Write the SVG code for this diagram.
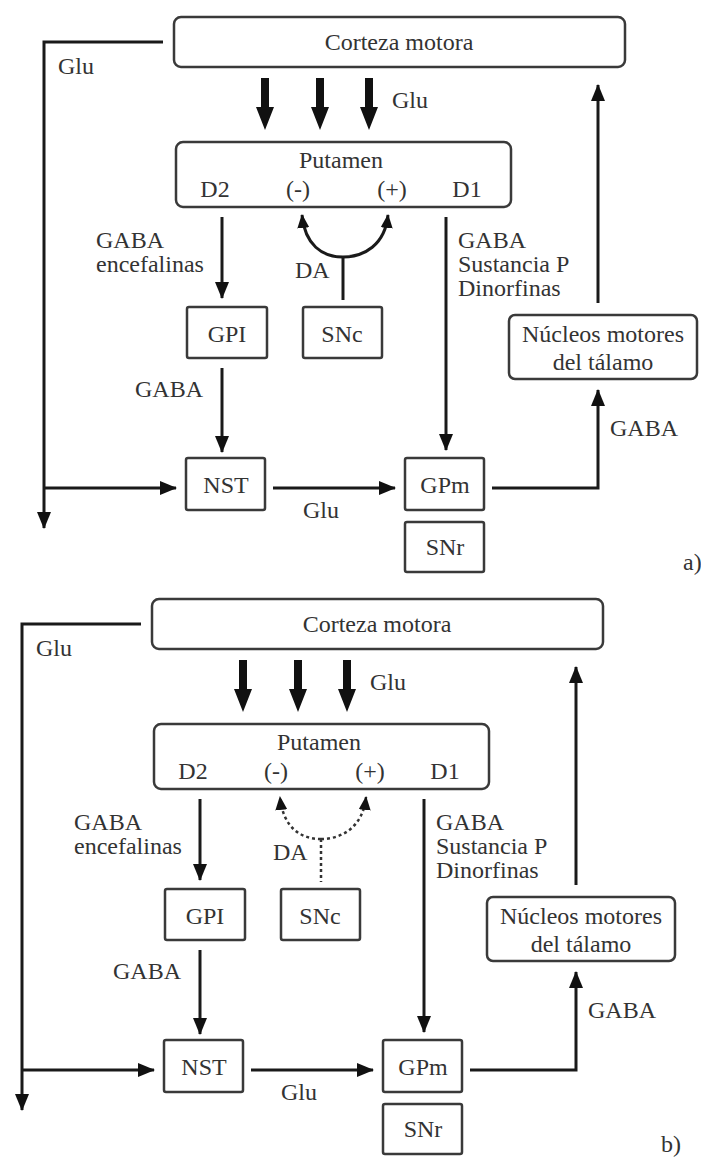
<svg xmlns="http://www.w3.org/2000/svg" width="701" height="1158" viewBox="0 0 701 1158">
<style>
text{font-family:'Liberation Serif','Times New Roman',serif;font-size:24px;fill:#333}
.c{text-anchor:middle}
.box{fill:#fff;stroke:#3a3a3a;stroke-width:2.5}
.ln{fill:none;stroke:#1a1a1a;stroke-width:3}
.dot{fill:none;stroke:#333;stroke-width:2.5;stroke-dasharray:3 3}
.thick{fill:#111}
</style>
<defs>
<marker id="ah" markerUnits="userSpaceOnUse" markerWidth="17" markerHeight="14" viewBox="0 0 17 14" refX="16" refY="7" orient="auto">
<path d="M0,0 L17,7 L0,14 Z" fill="#111"/>
</marker>
<marker id="ahs" markerUnits="userSpaceOnUse" markerWidth="14" markerHeight="12" viewBox="0 0 14 12" refX="13" refY="6" orient="auto">
<path d="M0,0 L14,6 L0,12 Z" fill="#111"/>
</marker>
</defs>

<g id="panel-a">
<g id="a-corteza"><rect class="box" x="174" y="17" width="451" height="50" rx="7"/><text class="c" x="399" y="50">Corteza motora</text></g>
<g id="a-putamen"><rect class="box" x="176" y="142" width="335" height="65" rx="7"/>
<text class="c" x="341" y="168">Putamen</text>
<text class="c" x="215" y="197">D2</text>
<text class="c" x="298" y="197">(-)</text>
<text class="c" x="392" y="197">(+)</text>
<text class="c" x="467" y="197">D1</text></g>
<g id="a-gpi"><rect class="box" x="187" y="307" width="80" height="51" rx="2"/><text class="c" x="227" y="342">GPI</text></g>
<g id="a-snc"><rect class="box" x="303" y="307" width="79" height="51" rx="2"/><text class="c" x="342" y="342">SNc</text></g>
<g id="a-nucleos"><rect class="box" x="509" y="315" width="188" height="64" rx="6"/><text class="c" x="603" y="342">Núcleos motores</text><text class="c" x="603" y="370">del tálamo</text></g>
<g id="a-nst"><rect class="box" x="186" y="458" width="79" height="52" rx="2"/><text class="c" x="226" y="493">NST</text></g>
<g id="a-gpm"><rect class="box" x="405" y="458" width="79" height="52" rx="2"/><text class="c" x="445" y="493">GPm</text></g>
<g id="a-snr"><rect class="box" x="405" y="522" width="79" height="50" rx="2"/><text class="c" x="445" y="555">SNr</text></g>
<g id="a-connectors">
<path class="ln" d="M163,42 H44 V528" marker-end="url(#ah)"/>
<path class="ln" d="M44,488 H176" marker-end="url(#ah)"/>
<path class="thick" d="M261,78 H269 V107 H274 L265,130 L256,107 H261 Z"/>
<path class="thick" d="M316,78 H324 V107 H329 L320,130 L311,107 H316 Z"/>
<path class="thick" d="M365,78 H373 V107 H378 L369,130 L360,107 H365 Z"/>
<path class="ln" d="M222,217 V298" marker-end="url(#ah)"/>
<path class="ln" d="M343,257 C322,257 305,245 302,215" marker-end="url(#ahs)"/>
<path class="ln" d="M343,257 C364,257 385,245 388,215" marker-end="url(#ahs)"/>
<path class="ln" d="M343,257 V300"/>
<path class="ln" d="M446,217 V450" marker-end="url(#ah)"/>
<path class="ln" d="M598,303 V85" marker-end="url(#ah)"/>
<path class="ln" d="M222,368 V452" marker-end="url(#ah)"/>
<path class="ln" d="M273,488 H395" marker-end="url(#ah)"/>
<path class="ln" d="M492,488 H598 V390" marker-end="url(#ah)"/>
</g>
<g id="a-labels">
<text x="58" y="74">Glu</text>
<text x="392" y="108">Glu</text>
<text x="96" y="248">GABA</text>
<text x="96" y="272">encefalinas</text>
<text x="295" y="278">DA</text>
<text x="458" y="248">GABA</text>
<text x="458" y="272">Sustancia P</text>
<text x="458" y="296">Dinorfinas</text>
<text x="135" y="397">GABA</text>
<text x="303" y="518">Glu</text>
<text x="610" y="436">GABA</text>
<text x="683" y="570">a)</text>
</g>
</g>

<g id="panel-b" transform="translate(-22,582)">
<g id="b-corteza"><rect class="box" x="174" y="17" width="451" height="50" rx="7"/><text class="c" x="399" y="50">Corteza motora</text></g>
<g id="b-putamen"><rect class="box" x="176" y="142" width="335" height="65" rx="7"/>
<text class="c" x="341" y="168">Putamen</text>
<text class="c" x="215" y="197">D2</text>
<text class="c" x="298" y="197">(-)</text>
<text class="c" x="392" y="197">(+)</text>
<text class="c" x="467" y="197">D1</text></g>
<g id="b-gpi"><rect class="box" x="187" y="307" width="80" height="51" rx="2"/><text class="c" x="227" y="342">GPI</text></g>
<g id="b-snc"><rect class="box" x="303" y="307" width="79" height="51" rx="2"/><text class="c" x="342" y="342">SNc</text></g>
<g id="b-nucleos"><rect class="box" x="509" y="315" width="188" height="64" rx="6"/><text class="c" x="603" y="342">Núcleos motores</text><text class="c" x="603" y="370">del tálamo</text></g>
<g id="b-nst"><rect class="box" x="186" y="458" width="79" height="52" rx="2"/><text class="c" x="226" y="493">NST</text></g>
<g id="b-gpm"><rect class="box" x="405" y="458" width="79" height="52" rx="2"/><text class="c" x="445" y="493">GPm</text></g>
<g id="b-snr"><rect class="box" x="405" y="522" width="79" height="50" rx="2"/><text class="c" x="445" y="555">SNr</text></g>
<g id="b-connectors">
<path class="ln" d="M163,42 H44 V528" marker-end="url(#ah)"/>
<path class="ln" d="M44,488 H176" marker-end="url(#ah)"/>
<path class="thick" d="M261,78 H269 V107 H274 L265,130 L256,107 H261 Z"/>
<path class="thick" d="M316,78 H324 V107 H329 L320,130 L311,107 H316 Z"/>
<path class="thick" d="M365,78 H373 V107 H378 L369,130 L360,107 H365 Z"/>
<path class="ln" d="M222,217 V298" marker-end="url(#ah)"/>
<path class="dot" d="M343,257 C322,257 305,245 302,215" marker-end="url(#ahs)"/>
<path class="dot" d="M343,257 C364,257 385,245 388,215" marker-end="url(#ahs)"/>
<path class="dot" d="M343,257 V300"/>
<path class="ln" d="M446,217 V450" marker-end="url(#ah)"/>
<path class="ln" d="M598,303 V85" marker-end="url(#ah)"/>
<path class="ln" d="M222,368 V452" marker-end="url(#ah)"/>
<path class="ln" d="M273,488 H395" marker-end="url(#ah)"/>
<path class="ln" d="M492,488 H598 V390" marker-end="url(#ah)"/>
</g>
<g id="b-labels">
<text x="58" y="74">Glu</text>
<text x="392" y="108">Glu</text>
<text x="96" y="248">GABA</text>
<text x="96" y="272">encefalinas</text>
<text x="295" y="278">DA</text>
<text x="458" y="248">GABA</text>
<text x="458" y="272">Sustancia P</text>
<text x="458" y="296">Dinorfinas</text>
<text x="135" y="397">GABA</text>
<text x="303" y="518">Glu</text>
<text x="610" y="436">GABA</text>
<text x="683" y="570">b)</text>
</g>
</g>
</svg>
